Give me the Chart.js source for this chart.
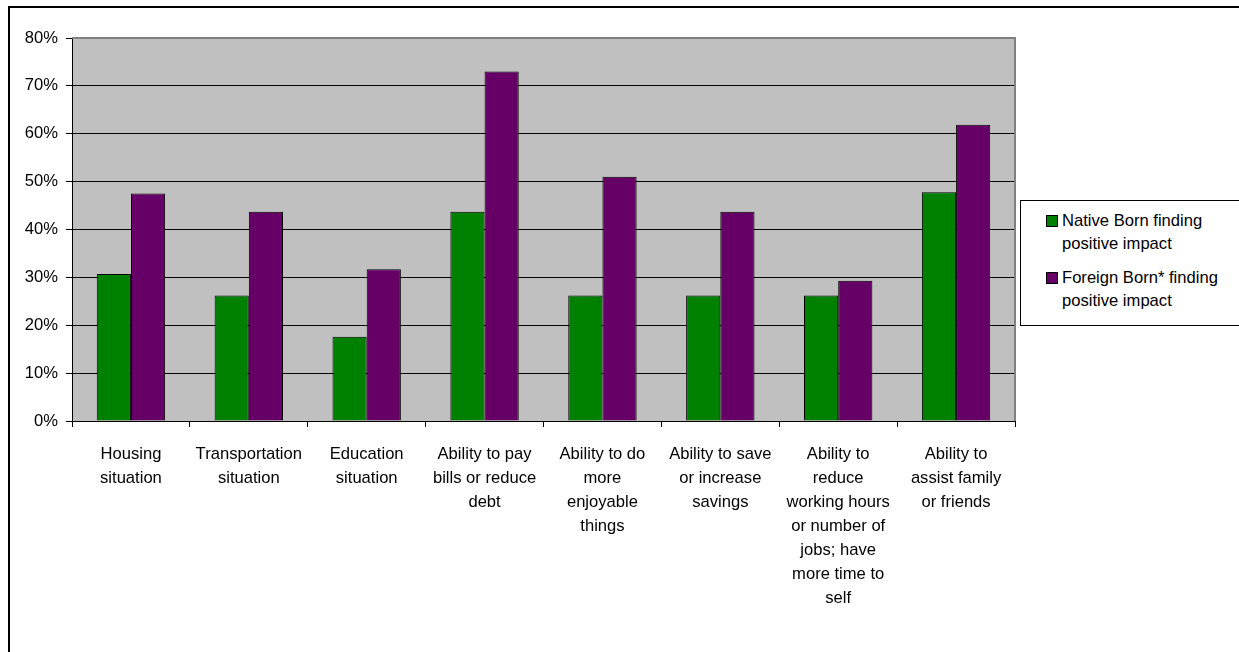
<!DOCTYPE html>
<html>
<head>
<meta charset="utf-8">
<script src="https://cdn.jsdelivr.net/npm/chart.js@4"></script>
<style>
  body { margin: 0; background: #fff; font-family: "Liberation Sans", Arial, sans-serif; }
  #wrap { position: relative; width: 1239px; height: 652px; overflow: hidden; }
  #frame { position: absolute; left: 8px; top: 6px; width: 1300px; height: 700px; border-left: 2px solid #000; border-top: 2px solid #000; }
  #legend { position: absolute; left: 1020px; top: 200px; width: 240px; height: 124px; border: 1px solid #000; background: #fff; }
  .item { position: absolute; left: 41px; font-size: 16.6px; line-height: 23px; color: #000; }
  .box { position: absolute; left: -16px; top: 6px; width: 10px; height: 10px; border: 1px solid #000; }
</style>
</head>
<body>
<div id="wrap">
  <div id="frame"></div>
  <canvas id="myChart" width="1239" height="652" style="position:absolute;left:0;top:0"></canvas>
  <div id="legend"></div>
</div>
<script>
// Categories (already wrapped into lines)
const categories = [
    ['Housing', 'situation'],
    ['Transportation', 'situation'],
    ['Education', 'situation'],
    ['Ability to pay', 'bills or reduce', 'debt'],
    ['Ability to do', 'more', 'enjoyable', 'things'],
    ['Ability to save', 'or increase', 'savings'],
    ['Ability to', 'reduce', 'working hours', 'or number of', 'jobs; have', 'more time to', 'self'],
    ['Ability to', 'assist family', 'or friends']
];

// Series values (percent)
const nativeBorn = [30.7, 26.2, 17.6, 43.7, 26.2, 26.2, 26.2, 47.8];
const foreignBorn = [47.5, 43.7, 31.7, 73.0, 51.0, 43.7, 29.3, 61.9];

const seriesNames = [
    ['Native Born finding', 'positive impact'],
    ['Foreign Born* finding', 'positive impact']
];
const seriesColors = ['#008000', '#660066'];

// Y axis ticks
const yMin = 0;
const yMax = 80;
const yStep = 10;

const fontFamily = '"Liberation Sans", Arial, sans-serif';

// Gray plot background + plot border
const plotArea = {
    id: 'plotArea',
    beforeDraw(chart) {
        const { ctx, chartArea: a } = chart;
        ctx.save();
        ctx.fillStyle = '#C0C0C0';
        ctx.fillRect(a.left, a.top, a.right - a.left, a.bottom - a.top);
        ctx.restore();
    },
    afterDatasetsDraw(chart) {
        const { ctx, chartArea: a } = chart;
        ctx.save();
        ctx.strokeStyle = '#808080';
        ctx.lineWidth = 2;
        ctx.beginPath();
        ctx.moveTo(a.left, a.top);
        ctx.lineTo(a.right, a.top);
        ctx.lineTo(a.right, a.bottom);
        ctx.stroke();
        ctx.restore();
    }
};

const ctx = document.getElementById('myChart').getContext('2d');
const myChart = new Chart(ctx, {
    type: 'bar',
    data: {
        labels: categories,
        datasets: [
            { label: seriesNames[0].join(' '), data: nativeBorn, backgroundColor: seriesColors[0], borderColor: '#000', borderWidth: 1 },
            { label: seriesNames[1].join(' '), data: foreignBorn, backgroundColor: seriesColors[1], borderColor: '#000', borderWidth: 1 }
        ]
    },
    options: {
        responsive: false,
        animation: false,
        events: [],
        layout: { padding: { top: 38, right: 224, left: 0, bottom: 0 } },
        datasets: { bar: { categoryPercentage: 0.58, barPercentage: 1.0 } },
        plugins: { legend: { display: false }, tooltip: { enabled: false } },
        scales: {
            x: {
                afterFit: (s) => { s.height = 652 - 38 - 383; },
                grid: { offset: true, drawOnChartArea: false, drawTicks: true, tickLength: 6, color: '#000' },
                border: { color: '#000', width: 1 },
                ticks: {
                    color: '#000',
                    padding: 15,
                    maxRotation: 0,
                    autoSkip: false,
                    font: { family: fontFamily, size: 16.6, lineHeight: 1.45 }
                }
            },
            y: {
                min: yMin,
                max: yMax,
                afterFit: (s) => { s.width = 72; },
                grid: {
                    color: (c) => c.tick && c.tick.value === yMax ? '#808080' : '#000',
                    tickColor: '#000',
                    tickLength: 6,
                    lineWidth: 1
                },
                border: { color: '#000', width: 1 },
                ticks: {
                    stepSize: yStep,
                    color: '#000',
                    padding: 8,
                    callback: (v) => v + '%',
                    font: { family: fontFamily, size: 16.6 }
                }
            }
        }
    },
    plugins: [plotArea]
});

// Legend box on the right
const legend = document.getElementById('legend');
const itemTops = [8, 65];
seriesNames.forEach((lines, i) => {
    const div = document.createElement('div');
    div.className = 'item';
    div.style.top = itemTops[i] + 'px';
    div.innerHTML = '<span class="box" style="background:' + seriesColors[i] + '"></span>' + lines.join('<br>');
    legend.appendChild(div);
});
</script>
</body>
</html>
